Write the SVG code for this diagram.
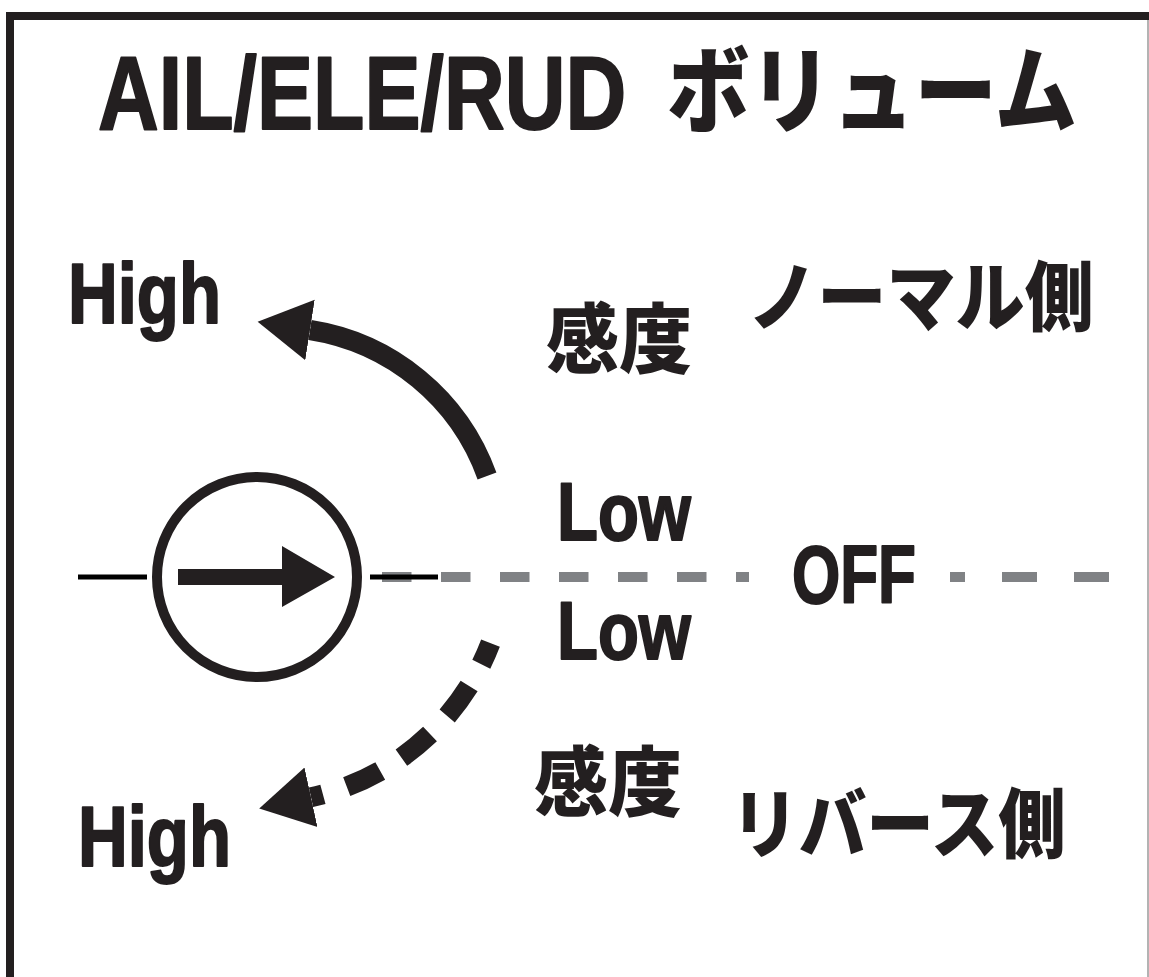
<svg xmlns="http://www.w3.org/2000/svg" width="1149" height="977" viewBox="0 0 1149 977">
<style>
.lat{font-family:"Liberation Sans","DejaVu Sans",sans-serif;font-weight:700;fill:#231f20;stroke:#231f20;stroke-width:2;stroke-linejoin:round}
.jp{font-family:"Noto Sans CJK JP","Noto Sans",sans-serif;font-weight:900;fill:#231f20}
.frame{stroke:#231f20;stroke-width:8;fill:none}
.gray{stroke:#808285;stroke-width:10;fill:none}
.blk{stroke:#000;stroke-width:5}
.arc{stroke:#231f20;stroke-width:20;fill:none;marker-end:url(#head)}
</style>
<defs>
<marker id="head" markerUnits="userSpaceOnUse" markerWidth="60" markerHeight="70" viewBox="0 -35 60 70" refX="0" refY="0" orient="auto">
<path d="M0,-30.5 L53,0 L0,30.5 Z" fill="#231f20"/>
</marker>
</defs>
<rect width="1149" height="977" fill="#fff"/>
<g id="frame">
<path class="frame" d="M10,977 V16 H1149"/>
<line x1="1148" y1="20" x2="1148" y2="977" stroke="#9a9a9a" stroke-width="1.5"/>
</g>
<g id="title">
<text class="lat" transform="translate(98,129) scale(0.817,1)" x="0" y="0" font-size="103" stroke-width="2.3">AIL/ELE/RUD</text>
<text class="jp" x="667" y="126" font-size="95" textLength="410" lengthAdjust="spacingAndGlyphs">ボリューム</text>
</g>
<g id="connectors">
<path class="gray" d="M382,577 H749" stroke-dasharray="29.5 29.5"/>
<path class="gray" d="M950,577 H1109" stroke-dasharray="35 37" stroke-dashoffset="20"/>
<line class="blk" x1="78" y1="577" x2="147" y2="577"/>
<line class="blk" x1="370" y1="577" x2="438" y2="577"/>
<path class="arc" d="M487,476 A225,225 0 0 0 310,330"/>
<path class="arc" d="M490.5,643.2 A249,249 0 0 1 311,797.3" stroke-dasharray="37 25" stroke-dashoffset="14"/>
</g>
<g id="knob">
<circle cx="257" cy="577" r="100" fill="none" stroke="#231f20" stroke-width="10"/>
<path d="M178,569 H282 V546 L335,577 L282,607 V585 H178 Z" fill="#231f20"/>
</g>
<g id="high-top"><text class="lat" x="68" y="323" font-size="85" textLength="153" lengthAdjust="spacingAndGlyphs">High</text></g>
<g id="high-bottom"><text class="lat" x="78" y="866" font-size="85" textLength="153" lengthAdjust="spacingAndGlyphs">High</text></g>
<g id="low-top"><text class="lat" x="557" y="540" font-size="81" textLength="134" lengthAdjust="spacingAndGlyphs">Low</text></g>
<g id="low-bottom"><text class="lat" x="557" y="659" font-size="81" textLength="134" lengthAdjust="spacingAndGlyphs">Low</text></g>
<g id="off"><text class="lat" x="792" y="603" font-size="81" textLength="124" lengthAdjust="spacingAndGlyphs">OFF</text></g>
<g id="kando-top"><text class="jp" x="546" y="367" font-size="76" textLength="146" lengthAdjust="spacingAndGlyphs">感度</text></g>
<g id="kando-bottom"><text class="jp" x="534" y="810" font-size="76" textLength="148" lengthAdjust="spacingAndGlyphs">感度</text></g>
<g id="normal"><text class="jp" x="748" y="325" font-size="76" textLength="346" lengthAdjust="spacingAndGlyphs">ノーマル側</text></g>
<g id="reverse"><text class="jp" x="731" y="852" font-size="76" textLength="335" lengthAdjust="spacingAndGlyphs">リバース側</text></g>
</svg>
